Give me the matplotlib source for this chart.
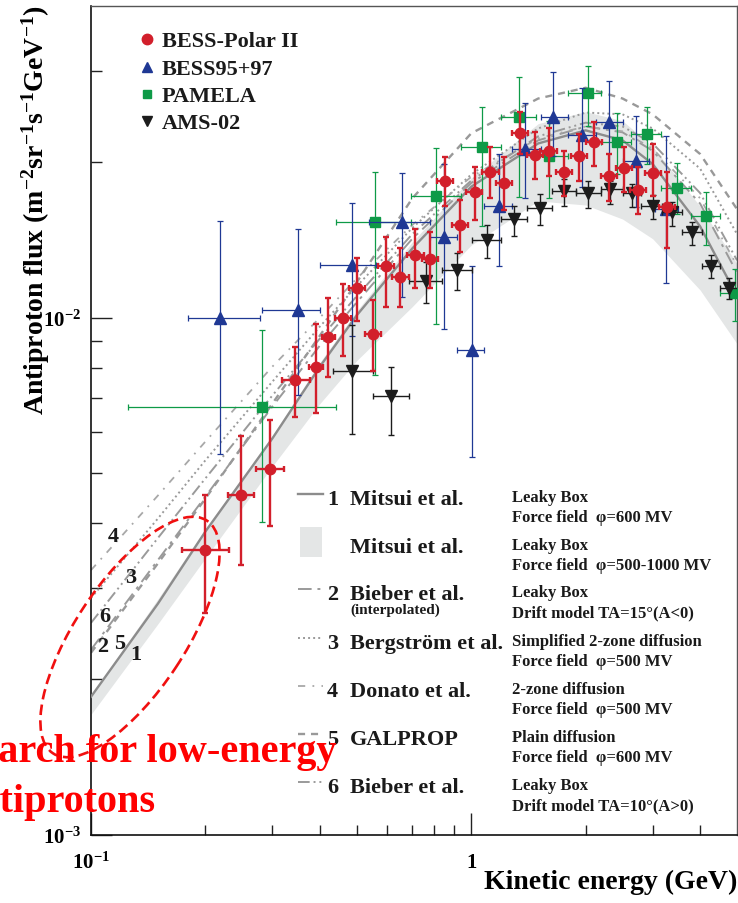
"""
Antiproton flux vs kinetic energy: BESS-Polar II, BESS95+97, PAMELA, AMS-02
compared with secondary-production models.
"""
import numpy as np
import matplotlib
matplotlib.use('Agg')
import matplotlib.pyplot as plt
from matplotlib.patches import Ellipse, Rectangle

plt.rcParams['font.family'] = 'Liberation Serif'
plt.rcParams['font.weight'] = 'bold'
plt.rcParams['axes.labelweight'] = 'bold'
plt.rcParams['mathtext.fontset'] = 'custom'
plt.rcParams['mathtext.rm'] = 'Liberation Serif:bold'
plt.rcParams['mathtext.bf'] = 'Liberation Serif:bold'
plt.rcParams['mathtext.it'] = 'Liberation Serif:bold'

# ---- model curves (GeV, m^-2 sr^-1 s^-1 GeV^-1) ----
E_model = [0.1, 0.15, 0.2, 0.3, 0.4, 0.5, 0.7, 1.0, 1.5, 2.0, 2.5, 3.0, 4.0, 5.0]
mitsui_600 = [1.85e-3, 2.80e-3, 3.86e-3, 5.84e-3, 8.04e-3, 1.01e-2, 1.36e-2,
              1.79e-2, 2.17e-2, 2.30e-2, 2.20e-2, 1.98e-2, 1.50e-2, 1.10e-2]
mitsui_band_hi = [1.86e-3, 2.86e-3, 3.91e-3, 5.92e-3, 8.19e-3, 1.03e-2, 1.40e-2,
                  1.86e-2, 2.37e-2, 2.50e-2, 2.40e-2, 2.14e-2, 1.64e-2, 1.27e-2]
mitsui_band_lo = [1.71e-3, 2.56e-3, 3.43e-3, 5.16e-3, 6.82e-3, 8.26e-3, 1.05e-2,
                  1.38e-2, 1.68e-2, 1.65e-2, 1.55e-2, 1.42e-2, 1.13e-2, 8.9e-3]
bieber_15 = [2.28e-3, 3.40e-3, 4.51e-3, 6.73e-3, 8.83e-3, 1.07e-2, 1.42e-2,
             1.82e-2, 2.20e-2, 2.34e-2, 2.28e-2, 2.10e-2, 1.66e-2, 1.22e-2]
bergstrom = [2.87e-3, 4.09e-3, 5.30e-3, 7.52e-3, 9.61e-3, 1.15e-2, 1.49e-2,
             1.89e-2, 2.32e-2, 2.49e-2, 2.47e-2, 2.32e-2, 1.94e-2, 1.45e-2]
donato = [3.25e-3, 4.53e-3, 5.76e-3, 8.04e-3, 1.00e-2, 1.19e-2, 1.51e-2,
          1.87e-2, 2.22e-2, 2.34e-2, 2.29e-2, 2.12e-2, 1.70e-2, 1.26e-2]
galprop = [2.25e-3, 3.35e-3, 4.47e-3, 6.82e-3, 9.23e-3, 1.17e-2, 1.70e-2,
           2.27e-2, 2.65e-2, 2.78e-2, 2.65e-2, 2.47e-2, 2.07e-2, 1.62e-2]
bieber_10 = [2.57e-3, 3.75e-3, 4.89e-3, 7.07e-3, 9.11e-3, 1.10e-2, 1.45e-2,
             1.84e-2, 2.24e-2, 2.38e-2, 2.34e-2, 2.17e-2, 1.74e-2, 1.29e-2]

# ---- BESS-Polar II ----
bp_E = [0.200, 0.248, 0.295, 0.345, 0.390, 0.421, 0.461, 0.502, 0.550, 0.598,
        0.651, 0.713, 0.781, 0.855, 0.936, 1.02, 1.12, 1.22, 1.34, 1.47,
        1.60, 1.75, 1.92, 2.10, 2.30, 2.52, 2.74, 3.00, 3.27]
bp_E_lo = [0.173, 0.229, 0.271, 0.317, 0.374, 0.404, 0.439, 0.478, 0.524, 0.570,
           0.620, 0.679, 0.744, 0.814, 0.891, 0.97, 1.07, 1.16, 1.28, 1.40,
           1.52, 1.67, 1.83, 2.00, 2.19, 2.40, 2.61, 2.86, 3.11]
bp_E_hi = [0.231, 0.268, 0.321, 0.376, 0.407, 0.439, 0.484, 0.527, 0.578, 0.628,
           0.684, 0.749, 0.820, 0.898, 0.983, 1.07, 1.18, 1.28, 1.41, 1.54,
           1.68, 1.84, 2.02, 2.21, 2.42, 2.65, 2.88, 3.15, 3.43]
bp_F = [3.56e-3, 4.53e-3, 5.09e-3, 7.56e-3, 8.04e-3, 9.19e-3, 9.96e-3, 1.143e-2,
        9.31e-3, 1.26e-2, 1.20e-2, 1.323e-2, 1.30e-2, 1.839e-2, 1.512e-2, 1.75e-2,
        1.914e-2, 1.822e-2, 2.276e-2, 2.063e-2, 2.10e-2, 1.914e-2, 2.055e-2,
        2.18e-2, 1.88e-2, 1.948e-2, 1.766e-2, 1.905e-2, 1.638e-2]
bp_F_lo = [2.68e-3, 3.32e-3, 3.95e-3, 6.41e-3, 6.53e-3, 7.69e-3, 8.41e-3, 9.83e-3,
           7.87e-3, 1.05e-2, 1.05e-2, 1.138e-2, 1.138e-2, 1.645e-2, 1.34e-2, 1.546e-2,
           1.70e-2, 1.616e-2, 2.07e-2, 1.855e-2, 1.88e-2, 1.72e-2, 1.84e-2,
           1.965e-2, 1.68e-2, 1.75e-2, 1.588e-2, 1.72e-2, 1.36e-2]
bp_F_hi = [4.53e-3, 5.89e-3, 6.33e-3, 8.79e-3, 9.73e-3, 1.093e-2, 1.163e-2, 1.306e-2,
           1.079e-2, 1.43e-2, 1.36e-2, 1.485e-2, 1.465e-2, 2.04e-2, 1.69e-2, 1.957e-2,
           2.14e-2, 2.04e-2, 2.50e-2, 2.28e-2, 2.32e-2, 2.10e-2, 2.26e-2,
           2.39e-2, 2.07e-2, 2.14e-2, 1.957e-2, 2.16e-2, 1.914e-2]

# ---- BESS95+97 ----
b97_E = [0.219, 0.351, 0.487, 0.659, 0.849, 1.006, 1.185, 1.386, 1.641, 1.955, 2.30, 2.71, 3.25]
b97_E_lo = [0.180, 0.281, 0.399, 0.540, 0.781, 0.919, 1.082, 1.281, 1.527, 1.797, 2.128, 2.506, 3.05]
b97_E_hi = [0.279, 0.399, 0.563, 0.781, 0.919, 1.082, 1.281, 1.527, 1.797, 2.128, 2.506, 2.932, 3.50]
b97_F = [1.00e-2, 1.036e-2, 1.266e-2, 1.532e-2, 1.432e-2, 8.67e-3, 1.645e-2,
         2.12e-2, 2.44e-2, 2.255e-2, 2.39e-2, 2.01e-2, 1.62e-2]
b97_F_lo = [5.44e-3, 7.07e-3, 9.23e-3, 1.098e-2, 9.5e-3, 5.37e-3, 1.26e-2,
            1.70e-2, 2.055e-2, 1.79e-2, 1.897e-2, 1.638e-2, 1.168e-2]
b97_F_hi = [1.54e-2, 1.485e-2, 1.667e-2, 1.905e-2, 1.98e-2, 1.255e-2, 2.07e-2,
            2.60e-2, 2.985e-2, 2.78e-2, 2.87e-2, 2.455e-2, 2.246e-2]

# ---- PAMELA ----
pam_E = [0.281, 0.560, 0.809, 1.069, 1.336, 1.60, 2.03, 2.416, 2.897, 3.47, 4.14, 4.93]
pam_E_lo = [0.125, 0.442, 0.696, 0.941, 1.199, 1.481, 1.80, 2.193, 2.63, 3.153, 3.779, 4.503]
pam_E_hi = [0.440, 0.696, 0.941, 1.199, 1.481, 1.80, 2.193, 2.63, 3.153, 3.779, 4.503, 5.40]
pam_F = [6.71e-3, 1.532e-2, 1.72e-2, 2.138e-2, 2.44e-2, 2.055e-2, 2.72e-2,
         2.188e-2, 2.265e-2, 1.783e-2, 1.573e-2, 1.113e-2]
pam_F_lo = [4.02e-3, 7.76e-3, 9.73e-3, 1.505e-2, 1.713e-2, 1.70e-2, 2.34e-2,
            1.897e-2, 1.98e-2, 1.588e-2, 1.383e-2, 9.83e-3]
pam_F_hi = [9.44e-3, 1.914e-2, 2.13e-2, 2.556e-2, 2.91e-2, 2.40e-2, 3.06e-2,
            2.49e-2, 2.556e-2, 1.99e-2, 1.75e-2, 1.24e-2]

# ---- AMS-02 ----
ams_E = [0.487, 0.617, 0.762, 0.919, 1.101, 1.297, 1.518, 1.754, 2.03, 2.32,
         2.646, 3.00, 3.37, 3.80, 4.266, 4.75]
ams_E_lo = [0.432, 0.553, 0.687, 0.839, 1.006, 1.199, 1.403, 1.632, 1.886, 2.193,
            2.50, 2.80, 3.17, 3.58, 4.04, 4.50]
ams_E_hi = [0.553, 0.687, 0.839, 1.006, 1.199, 1.403, 1.632, 1.886, 2.193, 2.50,
            2.80, 3.17, 3.58, 4.04, 4.50, 5.05]
ams_F = [7.9e-3, 7.04e-3, 1.179e-2, 1.238e-2, 1.414e-2, 1.553e-2, 1.631e-2, 1.758e-2,
         1.742e-2, 1.774e-2, 1.742e-2, 1.645e-2, 1.602e-2, 1.466e-2, 1.26e-2, 1.143e-2]
ams_F_lo = [5.95e-3, 5.92e-3, 1.067e-2, 1.128e-2, 1.306e-2, 1.437e-2, 1.512e-2, 1.645e-2,
            1.63e-2, 1.66e-2, 1.638e-2, 1.553e-2, 1.50e-2, 1.383e-2, 1.19e-2, 1.088e-2]
ams_F_hi = [9.69e-3, 8.04e-3, 1.282e-2, 1.33e-2, 1.512e-2, 1.645e-2, 1.735e-2, 1.855e-2,
            1.835e-2, 1.84e-2, 1.815e-2, 1.725e-2, 1.67e-2, 1.53e-2, 1.32e-2, 1.19e-2]

RED = '#d21f2b'
BLUE = '#1f3894'
GREEN = '#0e9a47'
BLACK = '#1c1c1c'
LINE = '#8c8c8c'

fig = plt.figure(figsize=(7.38, 9.04), dpi=100)
ax = fig.add_axes([91 / 738, 68 / 904, 646 / 738, 829 / 904])
ax.set_xscale('log')
ax.set_yscale('log')
ax.set_xlim(0.1, 5.0)
ax.set_ylim(1e-3, 4e-2)


def to_ax(x, y):
    # pixel position in the figure -> axes fraction
    return (x - 91) / 646, (836 - y) / 829


# model band and curves
ax.fill_between(E_model, mitsui_band_lo, mitsui_band_hi, color='#e4e6e6', lw=0, zorder=1)
styles = [
    (bieber_15, (0, (7, 3, 1.5, 3)), '#9a9a9a', 1.4),
    (bergstrom, (0, (1, 1.6)), '#9a9a9a', 1.4),
    (donato, (0, (4, 4, 1, 4)), '#a8a8a8', 1.3),
    (galprop, (0, (3, 2.5)), '#999999', 1.7),
    (bieber_10, (0, (6, 2, 1, 2, 1, 2)), '#9a9a9a', 1.4),
]
for vals, ls, col, lw in styles:
    ax.plot(E_model, vals, ls=ls, color=col, lw=lw, zorder=2)
ax.plot(E_model, mitsui_600, color=LINE, lw=1.7, zorder=3)


def draw(E, F, flo, fhi, elo, ehi, color, marker, ms, lw, cap, z):
    E = np.array(E)
    F = np.array(F)
    yerr = [F - np.array(flo), np.array(fhi) - F]
    xerr = [E - np.array(elo), np.array(ehi) - E]
    ax.errorbar(E, F, yerr=yerr, xerr=xerr, fmt=marker, color=color, ms=ms,
                mec=color, mfc=color, elinewidth=lw, capsize=cap, capthick=lw, zorder=z)


draw(pam_E, pam_F, pam_F_lo, pam_F_hi, pam_E_lo, pam_E_hi, GREEN, 's', 6.5, 0.9, 2, 4)
draw(b97_E, b97_F, b97_F_lo, b97_F_hi, b97_E_lo, b97_E_hi, BLUE, '^', 8, 0.9, 2, 5)
draw(ams_E, ams_F, ams_F_lo, ams_F_hi, ams_E_lo, ams_E_hi, BLACK, 'v', 8, 1.0, 2, 6)
draw(bp_E, bp_F, bp_F_lo, bp_F_hi, bp_E_lo, bp_E_hi, RED, 'o', 7.5, 1.7, 2, 7)

# axes styling
for side in ['left', 'bottom']:
    ax.spines[side].set_linewidth(1.2)
    ax.spines[side].set_color('#111111')
for side in ['top', 'right']:
    ax.spines[side].set_linewidth(1.0)
    ax.spines[side].set_color('#555555')

ax.set_xticks([0.1, 1], labels=[r'$\mathbf{10^{-1}}$', r'$\mathbf{1}$'])
ax.set_xticks([0.2, 0.3, 0.4, 0.5, 0.6, 0.7, 0.8, 0.9, 2, 3, 4], minor=True)
ax.set_yticks([1e-3, 1e-2], labels=[r'$\mathbf{10^{-3}}$', r'$\mathbf{10^{-2}}$'])
ax.set_yticks([2e-3, 3e-3, 4e-3, 5e-3, 6e-3, 7e-3, 8e-3, 9e-3, 2e-2, 3e-2], minor=True)
ax.xaxis.set_minor_formatter(plt.NullFormatter())
ax.yaxis.set_minor_formatter(plt.NullFormatter())
ax.tick_params(which='both', direction='in', top=False, right=False, width=1.0, color='#222222')
ax.tick_params(axis='x', which='major', length=16, pad=12, labelsize=15)
ax.tick_params(axis='x', which='minor', length=7)
ax.tick_params(axis='y', which='major', length=15, pad=7, labelsize=15)
ax.tick_params(axis='y', which='minor', length=8)

ax.set_ylabel(r'Antiproton flux (m$^{-2}$sr$^{-1}$s$^{-1}$GeV$^{-1}$)', fontsize=20)
ax.yaxis.set_label_coords((52 - 91) / 646, (836 - 210) / 829)
ax.set_xlabel('Kinetic energy (GeV)', fontsize=20, loc='right')
ax.xaxis.set_label_coords(1.0, (836 - 889) / 829)
ax.xaxis.label.set_verticalalignment('baseline')

# experiment legend
exp_legend = [
    ('BESS-Polar II', RED, 'o', 7.5, 40),
    ('BESS95+97', BLUE, '^', 7.5, 68),
    ('PAMELA', GREEN, 's', 6.0, 95),
    ('AMS-02', BLACK, 'v', 7.5, 122),
]
for name, col, mk, ms, y in exp_legend:
    ax.plot(*to_ax(147, y), marker=mk, color=col, ms=ms, transform=ax.transAxes, clip_on=False)
    ax.text(*to_ax(162, y + 7), name, fontsize=16, va='baseline', ha='left',
            color='#1a1a1a', transform=ax.transAxes)

# model legend
model_rows = [
    ('1', 'Mitsui et al.', None, ('Leaky Box', 'Force field  φ=600 MV'), '-', 1.7, '#8c8c8c', 505),
    ('', 'Mitsui et al.', None, ('Leaky Box', 'Force field  φ=500-1000 MV'), None, 0, None, 553),
    ('2', 'Bieber et al.', '(interpolated)', ('Leaky Box', 'Drift model TA=15°(A<0)'),
     (0, (7, 3, 1.5, 3)), 1.4, '#9a9a9a', 600),
    ('3', 'Bergström et al.', None, ('Simplified 2-zone diffusion', 'Force field  φ=500 MV'),
     (0, (1, 1.6)), 1.4, '#9a9a9a', 649),
    ('4', 'Donato et al.', None, ('2-zone diffusion', 'Force field  φ=500 MV'),
     (0, (4, 4, 1, 4)), 1.3, '#a8a8a8', 697),
    ('5', 'GALPROP', None, ('Plain diffusion', 'Force field  φ=600 MV'),
     (0, (3, 2.5)), 1.7, '#999999', 745),
    ('6', 'Bieber et al.', None, ('Leaky Box', 'Drift model TA=10°(A>0)'),
     (0, (6, 2, 1, 2, 1, 2)), 1.4, '#9a9a9a', 793),
]
for num, name, sub, desc, ls, lw, col, yb in model_rows:
    if ls is None:
        x0, y0 = to_ax(300, 558)
        x1, y1 = to_ax(322, 528)
        ax.add_patch(Rectangle((x0, y0), x1 - x0, y1 - y0, transform=ax.transAxes,
                               color='#e4e6e6', lw=0))
    else:
        xa, ya = to_ax(298, yb - 10)
        xb, _ = to_ax(323, yb - 10)
        ax.plot([xa, xb], [ya, ya], ls=ls, lw=lw, color=col, transform=ax.transAxes)
    if num:
        ax.text(*to_ax(327, yb), num, fontsize=16, va='baseline', color='#1a1a1a',
                transform=ax.transAxes)
    ax.text(*to_ax(350, yb), name, fontsize=16, va='baseline', color='#1a1a1a',
            transform=ax.transAxes)
    if sub:
        ax.text(*to_ax(350, yb + 14), sub, fontsize=11, va='baseline', color='#1a1a1a',
                transform=ax.transAxes)
    ax.text(*to_ax(512, yb - 3), desc[0], fontsize=12, va='baseline', color='#1a1a1a',
            transform=ax.transAxes)
    ax.text(*to_ax(512, yb + 17), desc[1], fontsize=12, va='baseline', color='#1a1a1a',
            transform=ax.transAxes)

# curve numbers at low energy
for num, x, y in [('4', 113, 537), ('3', 131, 578), ('6', 105, 617),
                  ('2', 103, 647), ('5', 120, 644), ('1', 136, 655)]:
    ax.text(*to_ax(x, y), num, fontsize=16, ha='center', va='center', color='#1a1a1a',
            transform=ax.transAxes, zorder=8)

# highlight of the low-energy region
fig.add_artist(Ellipse((1.30, (904 - 638) / 100), 2.79, 1.10, angle=56.5,
                       transform=fig.dpi_scale_trans, fill=False, ec='#f01010',
                       lw=1.9, ls=(0, (4, 2))))
fig.text(-42 / 738, 1 - 762 / 904, 'Search for low-energy', fontsize=29, color='#ff0000',
         ha='left', va='baseline')
fig.text(-42 / 738, 1 - 812 / 904, 'antiprotons', fontsize=29, color='#ff0000',
         ha='left', va='baseline')

fig.savefig('out.png', dpi=100)
